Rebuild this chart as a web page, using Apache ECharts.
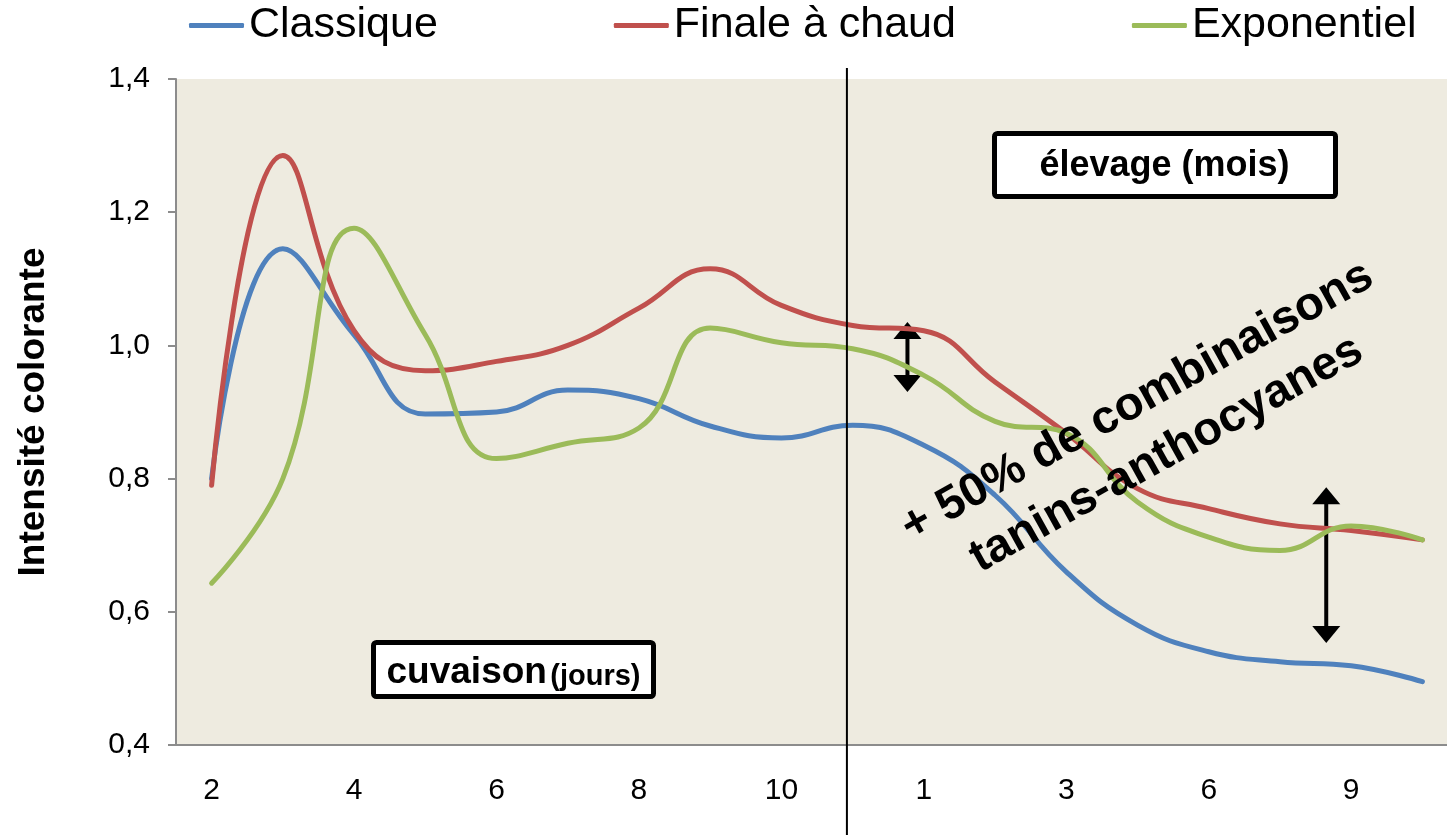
<!DOCTYPE html>
<html>
<head>
<meta charset="utf-8">
<script src="https://cdn.jsdelivr.net/npm/echarts@6/dist/echarts.min.js"></script>
<style>
  html, body { margin: 0; padding: 0; background: #fff; }
  #main { width: 1447px; height: 835px; }
</style>
</head>
<body>
<div id="main"></div>
<script>
// catégories : jours de cuvaison puis mois d'élevage
var jours = ['2', '3', '4', '5', '6', '7', '8', '9', '10', '11'];
var mois = ['1', '2', '3', '4', '6', '8', '9', '12'];
var categories = jours.concat(mois);

// valeurs
var classique = [0.80, 1.145, 1.016, 0.897, 0.900, 0.933, 0.920, 0.879, 0.861, 0.880,
                 0.850, 0.775, 0.660, 0.580, 0.540, 0.525, 0.519, 0.495];
var finaleChaud = [0.79, 1.285, 1.022, 0.962, 0.976, 1.000, 1.056, 1.115, 1.060, 1.030,
                   1.022, 0.945, 0.868, 0.785, 0.755, 0.732, 0.722, 0.708];
var exponentiel = [0.643, 0.800, 1.176, 1.016, 0.830, 0.853, 0.876, 1.026, 1.004, 0.995,
                   0.955, 0.886, 0.868, 0.765, 0.712, 0.692, 0.729, 0.708];

var yTicks = { min: 0.4, max: 1.4, interval: 0.2 };

var myChart = echarts.init(document.getElementById('main'));

var option = {
    animation: false,
    textStyle: { fontFamily: 'Liberation Sans, Arial, sans-serif' },
    color: ['#4F81BD', '#C0504D', '#9BBB59'],
    legend: {
        left: 189,
        top: 4,
        padding: 0,
        itemGap: 176,
        itemWidth: 55,
        itemHeight: 5,
        icon: 'roundRect',
        textStyle: { fontSize: 43, color: '#000' },
        data: ['Classique', 'Finale à chaud', 'Exponentiel']
    },
    grid: {
        left: 176,
        top: 79,
        bottom: 90,
        width: 1282,
        outerBoundsMode: 'none',
        containLabel: false,
        show: true,
        backgroundColor: '#EEEBE0',
        borderWidth: 0
    },
    xAxis: {
        type: 'category',
        data: categories,
        boundaryGap: true,
        axisLine: { lineStyle: { color: '#8C8C8C', width: 2 } },
        axisTick: { interval: 0, length: 9, lineStyle: { color: '#8C8C8C', width: 2 } },
        axisLabel: { interval: 1, fontSize: 30, color: '#000', margin: 31 },
        splitLine: { show: false }
    },
    yAxis: {
        type: 'value',
        min: yTicks.min,
        max: yTicks.max,
        interval: yTicks.interval,
        name: 'Intensité colorante',
        nameLocation: 'middle',
        nameRotate: 90,
        nameGap: 124,
        nameTextStyle: { fontSize: 37, fontWeight: 'bold', color: '#000' },
        axisLine: { show: true, lineStyle: { color: '#8C8C8C', width: 2 } },
        axisTick: { show: true, length: 8, lineStyle: { color: '#8C8C8C', width: 2 } },
        axisLabel: {
            fontSize: 30,
            color: '#000',
            margin: 26,
            formatter: function (v) { return v.toFixed(1).replace('.', ','); }
        },
        splitLine: { show: false }
    },
    series: [
        { name: 'Classique', type: 'line', data: classique, smooth: 0.45, symbol: 'none',
          lineStyle: { width: 5, cap: 'round' } },
        { name: 'Finale à chaud', type: 'line', data: finaleChaud, smooth: 0.45, symbol: 'none',
          lineStyle: { width: 5, cap: 'round' } },
        { name: 'Exponentiel', type: 'line', data: exponentiel, smooth: 0.45, symbol: 'none',
          lineStyle: { width: 5, cap: 'round' } }
    ]
};

myChart.setOption(option);

// annotations placées via les échelles du graphique
function px(idx, val) {
    return myChart.convertToPixel({ gridIndex: 0 }, [idx, val]);
}
function pxFrac(f, val) {
    var a = px(Math.floor(f), val), b = px(Math.floor(f) + 1, val);
    var t = f - Math.floor(f);
    return [a[0] + (b[0] - a[0]) * t, a[1]];
}

function doubleArrow(x, y1, y2) {
    var hw = 14, hh = 17;
    return {
        type: 'group',
        children: [
            { type: 'line', shape: { x1: x, y1: y1 + hh - 2, x2: x, y2: y2 - hh + 2 },
              style: { stroke: '#000', lineWidth: 4 } },
            { type: 'polygon', shape: { points: [[x, y1], [x - hw, y1 + hh], [x + hw, y1 + hh]] },
              style: { fill: '#000' } },
            { type: 'polygon', shape: { points: [[x, y2], [x - hw, y2 - hh], [x + hw, y2 - hh]] },
              style: { fill: '#000' } }
        ]
    };
}

var sep = pxFrac(8.92, 1.0);
var a1top = pxFrac(9.77, 1.035), a1bot = pxFrac(9.77, 0.93);
var a2top = pxFrac(15.65, 0.787), a2bot = pxFrac(15.65, 0.553);

myChart.setOption({
    graphic: [
        { type: 'line', shape: { x1: sep[0], y1: 68, x2: sep[0], y2: 835 },
          style: { stroke: '#000', lineWidth: 2 }, z: 10 },
        doubleArrow(a1top[0], a1top[1], a1bot[1]),
        doubleArrow(a2top[0], a2top[1], a2bot[1]),
        {
            type: 'group', left: 992, top: 131,
            children: [
                { type: 'rect', shape: { x: 0, y: 0, width: 341, height: 63, r: 3 },
                  style: { fill: '#fff', stroke: '#000', lineWidth: 5 } },
                { type: 'text', x: 170, y: 33,
                  style: { text: 'élevage (mois)', font: 'bold 36px Liberation Sans, Arial, sans-serif',
                           fill: '#000', align: 'center', verticalAlign: 'middle' } }
            ]
        },
        {
            type: 'group', left: 371, top: 640,
            children: [
                { type: 'rect', shape: { x: 0, y: 0, width: 280, height: 54, r: 3 },
                  style: { fill: '#fff', stroke: '#000', lineWidth: 5 } },
                { type: 'text', x: 140, y: 30,
                  style: {
                      text: '{a|cuvaison} {b|(jours)}',
                      align: 'center', verticalAlign: 'middle', fill: '#000',
                      rich: {
                          a: { fontSize: 37, fontWeight: 'bold', fontFamily: 'Liberation Sans, Arial, sans-serif', verticalAlign: 'bottom' },
                          b: { fontSize: 29, fontWeight: 'bold', fontFamily: 'Liberation Sans, Arial, sans-serif', verticalAlign: 'bottom' }
                      }
                  } }
            ]
        },
        {
            type: 'text', x: 1152, y: 428, rotation: Math.PI / 6.2,
            style: {
                text: '+ 50% de combinaisons\ntanins-anthocyanes',
                font: 'bold 47px Liberation Sans, Arial, sans-serif',
                lineHeight: 60,
                fill: '#000', align: 'center', verticalAlign: 'middle'
            },
            z: 20
        }
    ]
});
</script>
</body>
</html>
